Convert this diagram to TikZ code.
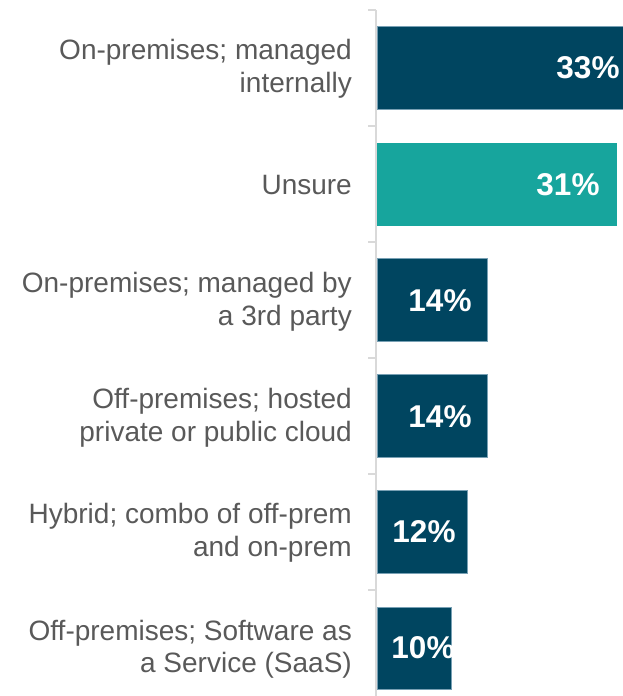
\documentclass[tikz,border=0pt]{standalone}
\usepackage{fontspec}
\setmainfont{Liberation Sans}
\definecolor{navy}{RGB}{0,69,96}
\definecolor{tealbar}{RGB}{23,165,157}
\definecolor{labelgray}{RGB}{89,89,89}
\definecolor{axisgray}{RGB}{217,217,217}
\definecolor{baredge}{RGB}{120,160,180}
\begin{document}
\begin{tikzpicture}[x=1pt,y=-1pt,
  catlabel/.style={anchor=east,align=right,text=labelgray,inner sep=0pt,
    font=\fontsize{28}{32.5}\selectfont},
  vallabel/.style={text=white,inner sep=0pt,font=\bfseries\fontsize{31.5}{34}\selectfont},
  navybar/.style={fill=navy,draw=baredge,line width=0.5pt},
  tealbarst/.style={fill=tealbar,draw=none},
  axisline/.style={draw=axisgray,line width=1.6pt}]
\useasboundingbox (0,0) rectangle (623,696);
% axis
\draw[axisline] (376,10) -- (376,696);
\foreach \yy in {10,126,242,358,474,590}
  \draw[axisline] (368,\yy) -- (376,\yy);
% bars
\path[navybar] (377,26) rectangle (624,109);
\path[tealbarst] (377,143) rectangle (617,226);
\path[navybar] (377,258.5) rectangle (487,341.5);
\path[navybar] (377,374.5) rectangle (487,457.5);
\path[navybar] (377,490) rectangle (467,573);
\path[navybar] (377,607) rectangle (451,689);
% value labels
\node[vallabel] (v1) at (588,68) {33\%};
\node[vallabel] (v2) at (568,185) {31\%};
\node[vallabel] (v3) at (440,301) {14\%};
\node[vallabel] (v4) at (440,417) {14\%};
\node[vallabel] (v5) at (424,532) {12\%};
\begin{scope}
  \clip (377,607) rectangle (451,689);
  \node[vallabel] (v6) at (423,648) {10\%};
\end{scope}
% category labels
\node[catlabel] (c1) at (352,69) {On-premises; managed\\internally};
\node[catlabel] (c2) at (352,185) {Unsure};
\node[catlabel] (c3) at (352,302) {On-premises; managed by\\a 3rd party};
\node[catlabel] (c4) at (352,418) {Off-premises; hosted\\private or public cloud};
\node[catlabel] (c5) at (352,533) {Hybrid; combo of off-prem\\and on-prem};
\node[catlabel] (c6) at (352,649) {Off-premises; Software as\\a Service (SaaS)};
\end{tikzpicture}
\end{document}
